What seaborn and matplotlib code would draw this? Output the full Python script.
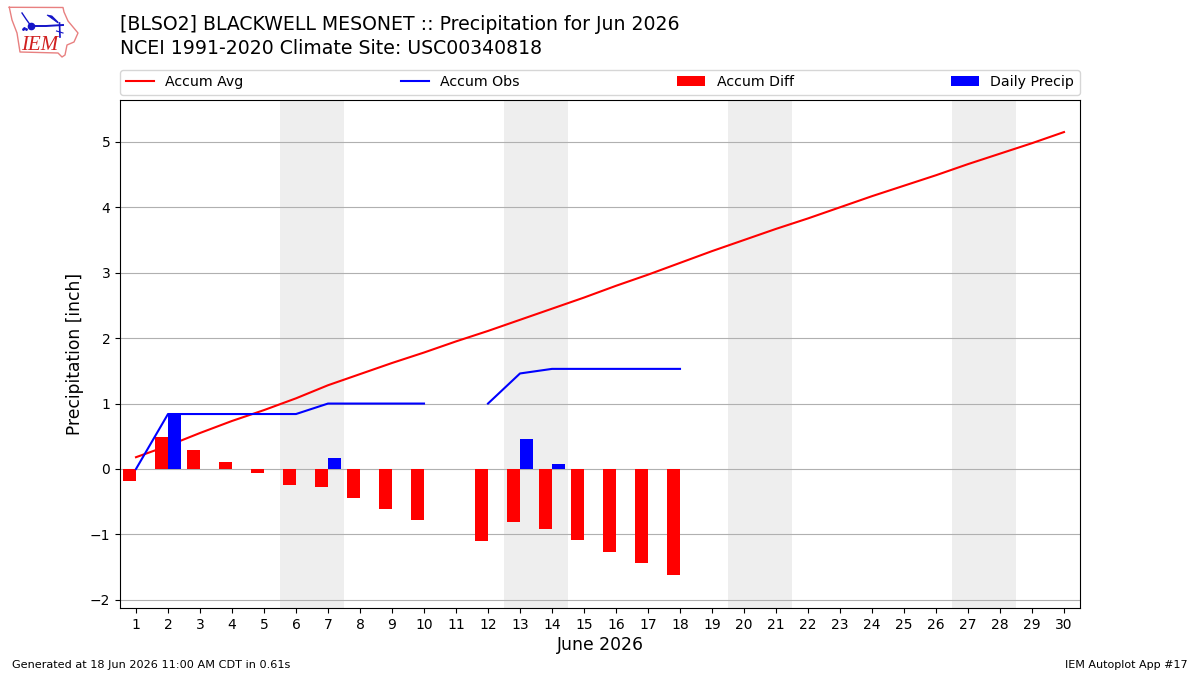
import numpy as np
import pandas as pd
import matplotlib
matplotlib.use("Agg")
import matplotlib.pyplot as plt
from matplotlib.lines import Line2D
from matplotlib.patches import Patch
import seaborn as sns

# June accumulations in inches, one entry per day
days = list(range(1, 31))
accum_avg = [0.18, 0.355, 0.55, 0.734, 0.90, 1.08, 1.28, 1.45, 1.62, 1.78,
             1.95, 2.11, 2.28, 2.45, 2.62, 2.80, 2.97, 3.15, 3.33, 3.50,
             3.67, 3.83, 4.00, 4.17, 4.33, 4.49, 4.66, 4.82, 4.98, 5.15]
obs_days_early = [1, 2, 3, 4, 5, 6, 7, 8, 9, 10]
accum_obs_early = [0.0, 0.84, 0.84, 0.84, 0.84, 0.84, 1.0, 1.0, 1.0, 1.0]
obs_days_late = [12, 13, 14, 15, 16, 17, 18]
accum_obs_late = [1.0, 1.46, 1.53, 1.53, 1.53, 1.53, 1.53]
diff_days = [1, 2, 3, 4, 5, 6, 7, 8, 9, 10, 12, 13, 14, 15, 16, 17, 18]
accum_diff = [-0.18, 0.485, 0.29, 0.106, -0.06, -0.24, -0.27, -0.44, -0.61,
              -0.78, -1.10, -0.81, -0.92, -1.09, -1.27, -1.44, -1.62]
rain_days = [2, 7, 13, 14]
daily_precip = [0.84, 0.17, 0.46, 0.08]
weekends = [(5.5, 7.5), (12.5, 14.5), (19.5, 21.5), (26.5, 28.5)]
tick_days = days
y_ticks = [-2, -1, 0, 1, 2, 3, 4, 5]

title_lines = ["[BLSO2] BLACKWELL MESONET :: Precipitation for Jun 2026",
               "NCEI 1991-2020 Climate Site: USC00340818"]

BAR_WIDTH = 0.4

fig = plt.figure(figsize=(12, 6.75), dpi=100)
ax = fig.add_axes([0.1, 1 - 608 / 675, 0.8, 508 / 675])

for start, end in weekends:
    ax.axvspan(start, end, color="#eeeeee", lw=0, zorder=0)

sns.lineplot(x=days, y=accum_avg, color="red", lw=1.5, ax=ax, zorder=2,
             errorbar=None, estimator=None)
for xs, ys in ((obs_days_early, accum_obs_early), (obs_days_late, accum_obs_late)):
    sns.lineplot(x=xs, y=ys, color="blue", lw=1.5, ax=ax, zorder=4,
                 errorbar=None, estimator=None)

# Difference bars sit left of the day tick, daily totals to the right
diff_frame = pd.DataFrame({"x": np.array(diff_days) - BAR_WIDTH / 2, "y": accum_diff})
rain_frame = pd.DataFrame({"x": np.array(rain_days) + BAR_WIDTH / 2, "y": daily_precip})
sns.barplot(data=diff_frame, x="x", y="y", native_scale=True, width=BAR_WIDTH,
            color="red", saturation=1, linewidth=0, errorbar=None, ax=ax, zorder=3)
sns.barplot(data=rain_frame, x="x", y="y", native_scale=True, width=BAR_WIDTH,
            color="blue", saturation=1, linewidth=0, errorbar=None, ax=ax, zorder=3)

ax.set_xlim(0.5, 30.5)
ax.set_ylim(-2.125, 5.64)
ax.set_xticks(tick_days)
ax.set_xticklabels([str(d) for d in tick_days])
ax.set_yticks(y_ticks)
ax.tick_params(axis="both", labelsize=10)
ax.yaxis.grid(True, color="#b0b0b0", lw=0.8, zorder=1)
ax.xaxis.grid(False)
ax.set_axisbelow(True)
ax.set_xlabel("June 2026", fontsize=12.4, labelpad=3)
ax.set_ylabel("Precipitation [inch]", fontsize=12.3)

handles = [Line2D([], [], color="red", lw=1.5),
           Line2D([], [], color="blue", lw=1.5),
           Patch(color="red", lw=0),
           Patch(color="blue", lw=0)]
ax.legend(handles, ["Accum Avg", "Accum Obs", "Accum Diff", "Daily Precip"],
          loc="lower left", bbox_to_anchor=(0, 1 + 5 / 508, 1, 21 / 508), mode="expand",
          ncol=4, fontsize=10.2, borderaxespad=0, frameon=True)

fig.text(120 / 1200, 1 - 25 / 675, title_lines[0], fontsize=13.6, va="center")
fig.text(120 / 1200, 1 - 48 / 675, title_lines[1], fontsize=13.6, va="center")
fig.text(12 / 1200, 1 - 665 / 675, "Generated at 18 Jun 2026 11:00 AM CDT in 0.61s",
         fontsize=8.15, va="center")
fig.text(1188 / 1200, 1 - 665 / 675, "IEM Autoplot App #17", fontsize=8,
         va="center", ha="right")

# Station logo: state outline, station glyph and initials
logo = fig.add_axes([0, 1 - 60 / 675, 85 / 1200, 60 / 675])
logo.set_xlim(0, 85)
logo.set_ylim(60, 0)
logo.axis("off")
outline_x = [9.3, 63, 64, 68, 78, 74, 67, 65, 62, 58, 20, 17, 12, 9.3]
outline_y = [7.3, 7.5, 12, 21, 33, 42, 45, 55, 57, 53, 52, 33, 20, 7.3]
logo.plot(outline_x, outline_y, color="#e88080", lw=1)
logo.plot([22, 26, 31], [13, 19, 26], color="#1414c8", lw=1)
logo.plot([31, 46, 63], [26, 26, 25], color="#1414c8", lw=1.4)
logo.plot([31], [26], "o", color="#1414c8", ms=4.5)
logo.fill([47, 52, 58, 58], [15, 16, 22, 23], color="#1414c8", lw=0.6)
logo.plot([59.5, 60], [23, 37], color="#1414c8", lw=1.2)
logo.plot([56.5, 63], [31, 33], color="#1414c8", lw=0.8)
logo.plot([23, 24, 25.5], [29, 27.5, 29], ".", color="#1414c8", ms=2)
logo.text(21, 45, "IEM", color="#d02020", fontsize=15, style="italic",
          family="Liberation Serif", va="center")

fig.savefig("out.png", dpi=100)
